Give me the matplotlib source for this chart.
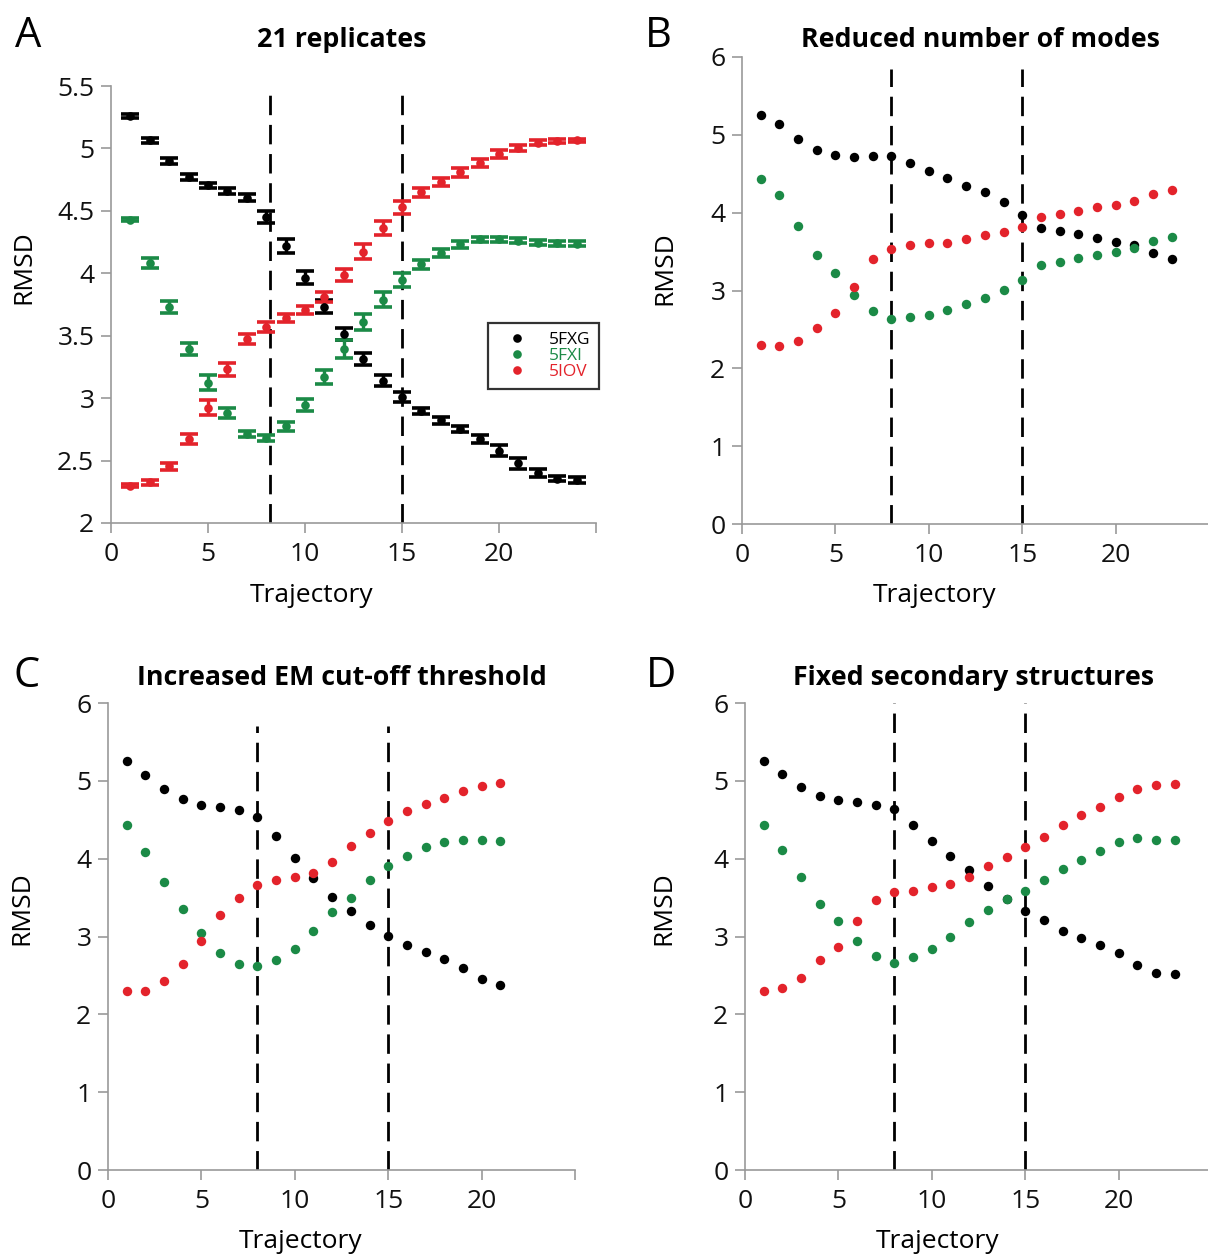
import numpy as np
from matplotlib import pyplot as plt

plt.rcParams['font.family'] = ['Open Sans', 'DejaVu Sans']

BLACK = '#000000'
GREEN = '#1b8a46'
RED = '#e3232b'

# panel A: 21 replicates (mean +/- error)
a_x = list(range(1, 25))
a_fxg = [5.259, 5.067, 4.899, 4.773, 4.704, 4.661, 4.605, 4.453, 4.219, 3.965, 3.733, 3.512,
         3.312, 3.141, 3.008, 2.901, 2.821, 2.752, 2.675, 2.579, 2.480, 2.400, 2.355, 2.347]
a_fxg_err = [0.013, 0.020, 0.024, 0.023, 0.023, 0.023, 0.029, 0.048, 0.058, 0.050, 0.050, 0.050,
             0.050, 0.045, 0.040, 0.024, 0.028, 0.027, 0.033, 0.043, 0.044, 0.030, 0.020, 0.024]
a_fxi = [4.429, 4.085, 3.731, 3.392, 3.125, 2.880, 2.712, 2.680, 2.773, 2.947, 3.173, 3.392,
         3.608, 3.787, 3.947, 4.072, 4.165, 4.232, 4.272, 4.272, 4.259, 4.245, 4.240, 4.235]
a_fxi_err = [0.013, 0.040, 0.047, 0.048, 0.059, 0.039, 0.027, 0.027, 0.035, 0.048, 0.056, 0.072,
             0.065, 0.060, 0.059, 0.037, 0.033, 0.029, 0.020, 0.020, 0.020, 0.020, 0.020, 0.020]
a_iov = [2.299, 2.325, 2.453, 2.672, 2.925, 3.232, 3.475, 3.568, 3.640, 3.707, 3.813, 3.987,
         4.173, 4.360, 4.528, 4.648, 4.733, 4.811, 4.885, 4.955, 5.005, 5.045, 5.061, 5.064]
a_iov_err = [0.013, 0.020, 0.027, 0.040, 0.060, 0.053, 0.039, 0.040, 0.032, 0.033, 0.040, 0.047,
             0.059, 0.056, 0.053, 0.039, 0.032, 0.036, 0.031, 0.033, 0.025, 0.020, 0.015, 0.015]

# panel B: reduced number of modes
b_x = list(range(1, 24))
b_fxg = [5.259, 5.139, 4.946, 4.810, 4.745, 4.711, 4.728, 4.724, 4.638, 4.540, 4.441, 4.347,
         4.261, 4.133, 3.966, 3.807, 3.764, 3.726, 3.674, 3.623, 3.580, 3.482, 3.409]
b_fxi = [4.433, 4.227, 3.833, 3.460, 3.229, 2.942, 2.732, 2.638, 2.664, 2.685, 2.754, 2.827,
         2.904, 3.002, 3.139, 3.332, 3.366, 3.418, 3.456, 3.499, 3.546, 3.640, 3.687]
b_iov = [2.304, 2.287, 2.347, 2.518, 2.715, 3.041, 3.409, 3.529, 3.589, 3.606, 3.615, 3.657,
         3.709, 3.756, 3.820, 3.944, 3.983, 4.017, 4.073, 4.103, 4.150, 4.244, 4.296]

# panel C: increased EM cut-off threshold
c_x = list(range(1, 22))
c_fxg = [5.257, 5.077, 4.897, 4.765, 4.692, 4.666, 4.623, 4.529, 4.289, 4.011, 3.746, 3.506,
         3.322, 3.142, 3.005, 2.894, 2.800, 2.705, 2.594, 2.449, 2.380]
c_fxi = [4.431, 4.092, 3.703, 3.348, 3.039, 2.791, 2.641, 2.620, 2.697, 2.838, 3.069, 3.318,
         3.497, 3.720, 3.904, 4.033, 4.144, 4.212, 4.242, 4.234, 4.225]
c_iov = [2.299, 2.303, 2.427, 2.646, 2.941, 3.279, 3.493, 3.656, 3.729, 3.767, 3.814, 3.960,
         4.157, 4.324, 4.482, 4.615, 4.705, 4.782, 4.867, 4.932, 4.974]

# panel D: fixed secondary structures
d_x = list(range(1, 24))
d_fxg = [5.257, 5.094, 4.927, 4.808, 4.756, 4.722, 4.692, 4.632, 4.435, 4.226, 4.033, 3.849,
         3.653, 3.477, 3.332, 3.208, 3.071, 2.981, 2.896, 2.793, 2.639, 2.532, 2.519]
d_fxi = [4.427, 4.110, 3.768, 3.422, 3.204, 2.943, 2.746, 2.665, 2.733, 2.836, 2.994, 3.182,
         3.341, 3.477, 3.584, 3.725, 3.871, 3.982, 4.093, 4.213, 4.260, 4.239, 4.239]
d_iov = [2.301, 2.335, 2.472, 2.695, 2.861, 3.199, 3.465, 3.567, 3.589, 3.636, 3.678, 3.764,
         3.905, 4.016, 4.149, 4.281, 4.427, 4.555, 4.658, 4.786, 4.893, 4.944, 4.957]

W, H = 1208, 1258
fig = plt.figure(figsize=(W / 100, H / 100), dpi=100)


def axes_px(left, top, right, bottom):
    return fig.add_axes([left / W, 1 - bottom / H, (right - left) / W, (bottom - top) / H])


def style(ax, ylim, yticks, vline_top, title, tx, ty, ylab_x, ylab_y, xlab_y):
    ax.set_xlim(0, 25)
    ax.set_ylim(*ylim)
    ax.set_xticks(range(0, 26, 5))
    ax.set_xticklabels(['0', '5', '10', '15', '20', ''])
    ax.set_yticks(yticks)
    ax.set_yticklabels(['%g' % v for v in yticks])
    for s in ('top', 'right'):
        ax.spines[s].set_visible(False)
    for s in ('left', 'bottom'):
        ax.spines[s].set_color('#999999')
        ax.spines[s].set_linewidth(1.2)
    ax.tick_params(direction='out', length=7, width=1.2, color='#999999',
                   labelsize=19, labelcolor='#111111')
    ax.tick_params(axis='x', pad=7)
    ax.tick_params(axis='y', pad=5)
    for xv in (8 if ylim[0] == 0 else 8.2, 15):
        ax.vlines(xv, ylim[0], vline_top, colors='black', linestyles=(0, (7, 3.5)),
                  linewidth=2, zorder=1)
    ax.text(tx, ty, title, transform=ax.transAxes, ha='center', va='center',
            fontsize=19.3, fontweight='bold')
    ax.set_ylabel('RMSD', fontsize=19)
    ax.yaxis.set_label_coords(ylab_x, ylab_y)
    ax.set_xlabel('Trajectory', fontsize=19)
    ax.xaxis.set_label_coords(0.413, xlab_y)


def dots(ax, x, ys):
    for y, c in zip(ys, (BLACK, GREEN, RED)):
        ax.plot(x, y, 'o', color=c, markersize=6.8, markeredgewidth=0, zorder=3)


# A
axA = axes_px(111, 86, 596, 523)
handles = []
for y, e, c, lab in ((a_fxg, a_fxg_err, BLACK, '5FXG'), (a_fxi, a_fxi_err, GREEN, '5FXI'),
                     (a_iov, a_iov_err, RED, '5IOV')):
    axA.errorbar(a_x, y, yerr=e, fmt='none', ecolor=c, elinewidth=2.4,
                 capsize=6.5, capthick=2.6, zorder=2)
    hnd, = axA.plot(a_x, y, 'o', color=c, markersize=6.2, markeredgewidth=0, zorder=3, label=lab)
    handles.append(hnd)
style(axA, (2, 5.5), [2, 2.5, 3, 3.5, 4, 4.5, 5, 5.5], 5.48, '21 replicates',
      0.476, 1.105, -0.153, 0.585, -0.137)
leg = axA.legend(handles=handles, loc='upper left', bbox_to_anchor=(0.777, 0.458),
                 fontsize=12.5, frameon=True, fancybox=False, edgecolor='black',
                 borderaxespad=0, borderpad=0.5, handletextpad=0.6, labelspacing=0.0,
                 handlelength=2.4, markerscale=1.0, labelcolor=[BLACK, GREEN, RED])
leg.get_frame().set_linewidth(1.6)

# B
axB = axes_px(742, 57, 742 + 467, 524)
dots(axB, b_x, (b_fxg, b_fxi, b_iov))
style(axB, (0, 6), list(range(0, 7)), 5.85, 'Reduced number of modes',
      0.51, 1.036, -0.139, 0.548, -0.126)

# C
axC = axes_px(108, 703, 108 + 467, 1170)
dots(axC, c_x, (c_fxg, c_fxi, c_iov))
style(axC, (0, 6), list(range(0, 7)), 5.7, 'Increased EM cut-off threshold',
      0.50, 1.053, -0.158, 0.561, -0.126)

# D
axD = axes_px(745, 703, 745 + 467, 1170)
dots(axD, d_x, (d_fxg, d_fxi, d_iov))
style(axD, (0, 6), list(range(0, 7)), 6, 'Fixed secondary structures',
      0.49, 1.053, -0.146, 0.561, -0.126)

for letter, px, py in (('A', 28, 36), ('B', 658, 36), ('C', 27, 676), ('D', 661, 676)):
    fig.text(px / W, 1 - py / H, letter, fontsize=30, ha='center', va='center')

fig.savefig('out.png', dpi=100)
